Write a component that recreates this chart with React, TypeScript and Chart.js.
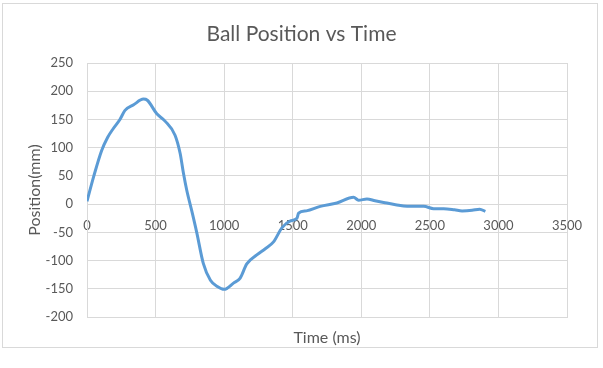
import React, { useEffect, useRef } from "react";
import { Chart, registerables } from "chart.js";

Chart.register(...registerables);

const timeMs = [0, 50, 107, 150, 192, 240, 277, 340, 411, 440, 509, 569, 642, 679, 703, 727, 764, 800, 848, 900, 950, 1000, 1068, 1117, 1165, 1238, 1300, 1360, 1421, 1480, 1531, 1543, 1600, 1701, 1822, 1944, 1980, 2041, 2100, 2163, 2250, 2334, 2455, 2528, 2601, 2680, 2735, 2808, 2863, 2905];
const positionMm = [5, 50, 95, 118, 134, 150, 166, 176, 186, 184, 160, 147, 122, 90, 55, 25, -12, -50, -105, -135, -146, -151, -140, -131, -106, -90, -79, -67, -42, -30, -25, -16, -12, -4, 2, 12, 7, 9, 6, 3, -1, -4, -4, -8, -8, -10, -12, -11, -9, -13];

const xMin = 0;
const xMax = 3500;
const xStep = 500;
const yMin = -200;
const yMax = 250;
const yStep = 50;

const chartTitle = "Ball Position vs Time";
const xTitle = "Time (ms)";
const yTitle = "Position(mm)";

const FONT = "Lato, 'Open Sans', sans-serif";
const TXT = "#595959";
const GRID = "#d9d9d9";

const framePlugin = {
  id: "frame",
  beforeDraw(chart: any) {
    const ctx = chart.ctx;
    ctx.save();
    ctx.fillStyle = "#ffffff";
    ctx.fillRect(0, 0, chart.width, chart.height);
    ctx.strokeStyle = "#d9d9d9";
    ctx.lineWidth = 1;
    ctx.strokeRect(2.5, 3.5, 595, 344);
    ctx.restore();
  },
};

const plainNumber = (v: any) => String(v);

export default function App() {
  const ref = useRef<HTMLCanvasElement>(null);
  useEffect(() => {
    document.body.style.margin = "0";
    const data = timeMs.map((t, i) => ({ x: t, y: positionMm[i] }));
    const chart = new Chart(ref.current!, {
      type: "line",
      data: {
        datasets: [
          {
            data,
            borderColor: "#5b9bd5",
            borderWidth: 3,
            pointRadius: 0,
            cubicInterpolationMode: "monotone",
            fill: false,
            xAxisID: "x",
            yAxisID: "y",
          },
        ],
      },
      options: {
        animation: false,
        responsive: false,
        layout: { padding: 0 },
        plugins: {
          legend: { display: false },
          tooltip: { enabled: false },
          title: {
            display: true,
            text: chartTitle,
            color: TXT,
            font: { family: FONT, size: 21, weight: "normal" },
            padding: { top: 22, bottom: 15.8 },
          },
        },
        scales: {
          x: {
            type: "linear",
            position: "bottom",
            min: xMin,
            max: xMax,
            ticks: { display: false, stepSize: xStep },
            grid: { color: GRID, drawTicks: false },
            border: { display: true, color: GRID },
            title: {
              display: true,
              text: xTitle,
              color: TXT,
              font: { family: FONT, size: 16 },
              padding: { top: 0, bottom: 21 },
            },
            afterFit(scale: any) {
              scale.height = 51;
            },
          },
          x2: {
            type: "linear",
            position: { y: 0 },
            min: xMin,
            max: xMax,
            ticks: {
              stepSize: xStep,
              color: TXT,
              font: { family: FONT, size: 13 },
              padding: 14,
              callback: plainNumber,
            },
            grid: { display: false, drawTicks: false },
            border: { display: false },
          },
          y: {
            type: "linear",
            position: "left",
            min: yMin,
            max: yMax,
            ticks: {
              stepSize: yStep,
              color: TXT,
              font: { family: FONT, size: 13 },
              padding: 14,
              callback: plainNumber,
            },
            grid: { color: GRID, drawTicks: false },
            border: { display: true, color: GRID },
            title: {
              display: true,
              text: yTitle,
              color: TXT,
              font: { family: FONT, size: 16 },
              padding: { top: 25, bottom: 0 },
            },
            afterFit(scale: any) {
              scale.width = 87;
            },
          },
          y2: {
            type: "linear",
            position: "right",
            min: yMin,
            max: yMax,
            ticks: { display: false },
            grid: { display: false, drawTicks: false },
            border: { display: false },
            afterFit(scale: any) {
              scale.width = 36;
            },
          },
        },
      },
      plugins: [framePlugin],
    });
    return () => chart.destroy();
  }, []);
  return <canvas ref={ref} width={603} height={368} style={{ display: "block" }} />;
}
